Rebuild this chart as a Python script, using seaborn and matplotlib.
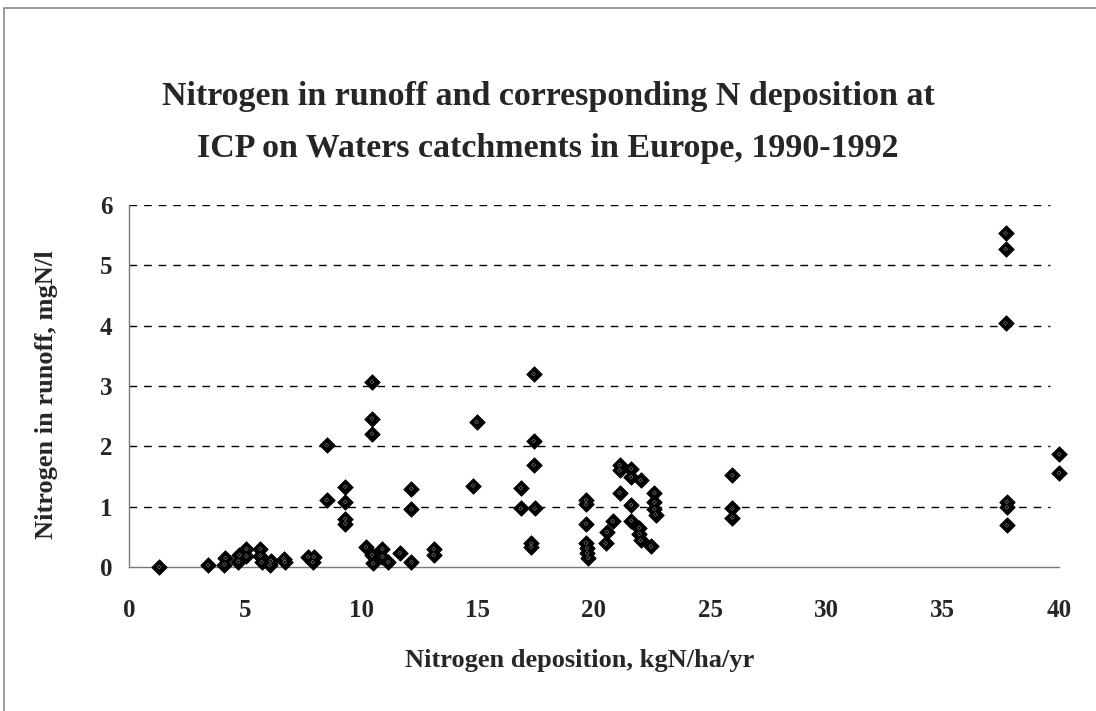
import matplotlib
matplotlib.use("Agg")
import matplotlib.pyplot as plt
import seaborn as sns
import pandas as pd
from matplotlib.patches import Rectangle

# Data
deposition = [1.3, 3.4, 4.1, 4.15, 4.7, 4.75, 5.05, 5.05, 5.65, 5.65, 5.7, 6.05, 6.1, 6.65, 6.7,
              7.7, 7.95, 7.9, 8.5, 8.5, 9.3, 9.3, 9.3, 9.3, 10.45, 10.45, 10.45, 10.2, 10.45,
              10.5, 10.9, 10.9, 11.15, 11.65, 12.15, 12.15, 12.15, 13.1, 13.1, 14.8, 14.95,
              16.85, 16.85, 17.4, 17.4, 17.4, 17.45, 17.3, 17.3, 19.65, 19.65, 19.65, 19.65,
              19.7, 19.7, 19.75, 20.5, 20.55, 20.8, 21.1, 21.1, 21.1, 21.6, 21.6, 22.0, 21.6,
              21.6, 21.95, 21.95, 22.0, 22.45, 22.6, 22.6, 22.6, 22.65, 25.95, 25.95, 25.95,
              37.7, 37.7, 37.7, 37.75, 37.75, 37.75, 40.0, 40.0]
runoff = [0.0, 0.03, 0.04, 0.15, 0.09, 0.2, 0.3, 0.18, 0.3, 0.19, 0.08, 0.03, 0.1, 0.14, 0.08,
          0.17, 0.17, 0.08, 2.02, 1.11, 1.33, 1.08, 0.8, 0.72, 3.07, 2.46, 2.21, 0.33, 0.2,
          0.06, 0.3, 0.17, 0.08, 0.23, 0.08, 1.3, 0.96, 0.3, 0.2, 1.35, 2.4,
          1.31, 0.97, 3.2, 2.09, 1.69, 0.97, 0.39, 0.33, 1.11, 1.04, 0.72, 0.4,
          0.31, 0.23, 0.15, 0.39, 0.58, 0.76, 1.69, 1.6, 1.23, 1.63, 1.49, 1.44, 1.03,
          0.77, 0.65, 0.55, 0.44, 0.34, 1.23, 1.07, 0.96, 0.87, 1.52, 0.97, 0.82,
          5.53, 5.27, 4.04, 1.08, 0.99, 0.69, 1.87, 1.56]

x_ticks = [0, 5, 10, 15, 20, 25, 30, 35, 40]
y_ticks = [0, 1, 2, 3, 4, 5, 6]
title_lines = ["Nitrogen in runoff and corresponding N deposition at",
               "ICP on Waters catchments in Europe, 1990-1992"]
x_label = "Nitrogen deposition, kgN/ha/yr"
y_label = "Nitrogen in runoff, mgN/l"

df = pd.DataFrame({"dep": deposition, "run": runoff})

sns.set_style("white")
plt.rcParams["font.family"] = ["Liberation Serif", "DejaVu Serif"]
plt.rcParams["font.weight"] = "bold"

W, H = 1096, 711
fig = plt.figure(figsize=(W / 100, H / 100), dpi=100)
fig.patch.set_facecolor("white")

L, R, T, B = 129, 1059, 205, 567
ax = fig.add_axes([L / W, 1 - B / H, (R - L) / W, (B - T) / H])

sns.scatterplot(data=df, x="dep", y="run", marker="D", s=62, color="black",
                edgecolor="black", linewidth=0.6, ax=ax, clip_on=False, zorder=5)
# light inner speckle of the scanned markers
ax.scatter(df["dep"], df["run"], marker="D", s=4, facecolor="none",
           edgecolor="#8c8c8c", linewidth=0.4, clip_on=False, zorder=6)

ax.set_xlim(0, 40)
ax.set_ylim(0, 6)
ax.set_xticks(x_ticks)
ax.set_yticks(y_ticks)
ax.set_xticklabels([str(v) for v in x_ticks])
ax.set_yticklabels([str(v) for v in y_ticks])

ax.hlines(y_ticks[1:], 0, 39.6, color="black", linewidth=1.0,
          linestyle=(0, (5.5, 5.0)), zorder=1)

for s in ["top", "right"]:
    ax.spines[s].set_visible(False)
for s in ["left", "bottom"]:
    ax.spines[s].set_color("#7a7a7a")
    ax.spines[s].set_linewidth(1.0)

ax.tick_params(axis="x", direction="inout", length=18, width=1.0, color="#555555",
               labelsize=18, pad=14)
ax.tick_params(axis="y", direction="out", length=7, width=1.0, color="#555555",
               labelsize=18, pad=5)
for lab in ax.get_xticklabels() + ax.get_yticklabels():
    lab.set_fontweight("bold")

ax.set_xlabel(x_label, fontsize=19, fontweight="bold")
ax.set_ylabel(y_label, fontsize=19, fontweight="bold")
ax.xaxis.label.set_va("center")
ax.yaxis.label.set_va("center")
ax.xaxis.set_label_coords((580 - L) / (R - L), (B - 660) / (B - T))
ax.yaxis.set_label_coords((47 - L) / (R - L), (B - 395) / (B - T))

fig.text(0.5, 1 - 97 / H, title_lines[0], ha="center", va="center",
         fontsize=24.5, fontweight="bold")
fig.text(0.5, 1 - 148 / H, title_lines[1], ha="center", va="center",
         fontsize=24.5, fontweight="bold")

fig.patches.append(Rectangle((4 / W, -0.02), 1.05, 1 - 8 / H + 0.02,
                             transform=fig.transFigure, fill=False,
                             edgecolor="#8a8a8a", linewidth=1.2))

fig.savefig("out.png", dpi=100)
